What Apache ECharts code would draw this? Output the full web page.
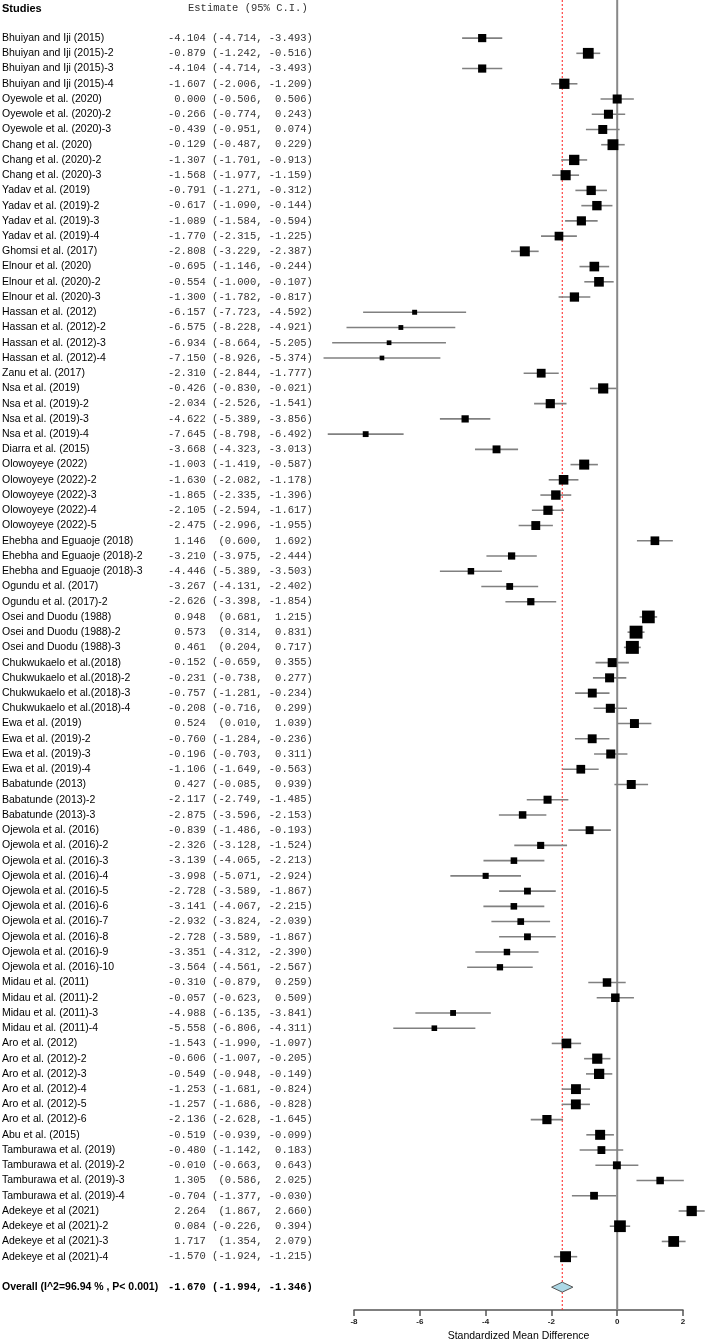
<!DOCTYPE html>
<html>
<head>
<meta charset="utf-8">
<script src="https://cdn.jsdelivr.net/npm/echarts@6/dist/echarts.min.js"></script>
<style>
html, body { margin: 0; padding: 0; background: #fff; }
#main { width: 706px; height: 1339px; }
</style>
</head>
<body>
<div id="main"></div>
<script>
var studies = [
	'Bhuiyan and Iji (2015)', 'Bhuiyan and Iji (2015)-2', 'Bhuiyan and Iji (2015)-3', 'Bhuiyan and Iji (2015)-4',
	'Oyewole et al. (2020)', 'Oyewole et al. (2020)-2', 'Oyewole et al. (2020)-3',
	'Chang et al. (2020)', 'Chang et al. (2020)-2', 'Chang et al. (2020)-3',
	'Yadav et al. (2019)', 'Yadav et al. (2019)-2', 'Yadav et al. (2019)-3', 'Yadav et al. (2019)-4',
	'Ghomsi et al. (2017)',
	'Elnour et al. (2020)', 'Elnour et al. (2020)-2', 'Elnour et al. (2020)-3',
	'Hassan et al. (2012)', 'Hassan et al. (2012)-2', 'Hassan et al. (2012)-3', 'Hassan et al. (2012)-4',
	'Zanu et al. (2017)',
	'Nsa et al. (2019)', 'Nsa et al. (2019)-2', 'Nsa et al. (2019)-3', 'Nsa et al. (2019)-4',
	'Diarra et al. (2015)',
	'Olowoyeye (2022)', 'Olowoyeye (2022)-2', 'Olowoyeye (2022)-3', 'Olowoyeye (2022)-4', 'Olowoyeye (2022)-5',
	'Ehebha and Eguaoje (2018)', 'Ehebha and Eguaoje (2018)-2', 'Ehebha and Eguaoje (2018)-3',
	'Ogundu et al. (2017)', 'Ogundu et al. (2017)-2',
	'Osei and Duodu (1988)', 'Osei and Duodu (1988)-2', 'Osei and Duodu (1988)-3',
	'Chukwukaelo et al.(2018)', 'Chukwukaelo et al.(2018)-2', 'Chukwukaelo et al.(2018)-3', 'Chukwukaelo et al.(2018)-4',
	'Ewa et al. (2019)', 'Ewa et al. (2019)-2', 'Ewa et al. (2019)-3', 'Ewa et al. (2019)-4',
	'Babatunde (2013)', 'Babatunde (2013)-2', 'Babatunde (2013)-3',
	'Ojewola et al. (2016)', 'Ojewola et al. (2016)-2', 'Ojewola et al. (2016)-3', 'Ojewola et al. (2016)-4',
	'Ojewola et al. (2016)-5', 'Ojewola et al. (2016)-6', 'Ojewola et al. (2016)-7', 'Ojewola et al. (2016)-8',
	'Ojewola et al. (2016)-9', 'Ojewola et al. (2016)-10',
	'Midau et al. (2011)', 'Midau et al. (2011)-2', 'Midau et al. (2011)-3', 'Midau et al. (2011)-4',
	'Aro et al. (2012)', 'Aro et al. (2012)-2', 'Aro et al. (2012)-3', 'Aro et al. (2012)-4', 'Aro et al. (2012)-5', 'Aro et al. (2012)-6',
	'Abu et al. (2015)',
	'Tamburawa et al. (2019)', 'Tamburawa et al. (2019)-2', 'Tamburawa et al. (2019)-3', 'Tamburawa et al. (2019)-4',
	'Adekeye et al (2021)', 'Adekeye et al (2021)-2', 'Adekeye et al (2021)-3', 'Adekeye et al (2021)-4'
];
var estimates = [
	-4.104, -0.879, -4.104, -1.607,
	0.000, -0.266, -0.439,
	-0.129, -1.307, -1.568,
	-0.791, -0.617, -1.089, -1.770,
	-2.808,
	-0.695, -0.554, -1.300,
	-6.157, -6.575, -6.934, -7.150,
	-2.310,
	-0.426, -2.034, -4.622, -7.645,
	-3.668,
	-1.003, -1.630, -1.865, -2.105, -2.475,
	1.146, -3.210, -4.446,
	-3.267, -2.626,
	0.948, 0.573, 0.461,
	-0.152, -0.231, -0.757, -0.208,
	0.524, -0.760, -0.196, -1.106,
	0.427, -2.117, -2.875,
	-0.839, -2.326, -3.139, -3.998, -2.728, -3.141, -2.932, -2.728, -3.351, -3.564,
	-0.310, -0.057, -4.988, -5.558,
	-1.543, -0.606, -0.549, -1.253, -1.257, -2.136,
	-0.519,
	-0.480, -0.010, 1.305, -0.704,
	2.264, 0.084, 1.717, -1.570
];
var lower = [
	-4.714, -1.242, -4.714, -2.006,
	-0.506, -0.774, -0.951,
	-0.487, -1.701, -1.977,
	-1.271, -1.090, -1.584, -2.315,
	-3.229,
	-1.146, -1.000, -1.782,
	-7.723, -8.228, -8.664, -8.926,
	-2.844,
	-0.830, -2.526, -5.389, -8.798,
	-4.323,
	-1.419, -2.082, -2.335, -2.594, -2.996,
	0.600, -3.975, -5.389,
	-4.131, -3.398,
	0.681, 0.314, 0.204,
	-0.659, -0.738, -1.281, -0.716,
	0.010, -1.284, -0.703, -1.649,
	-0.085, -2.749, -3.596,
	-1.486, -3.128, -4.065, -5.071, -3.589, -4.067, -3.824, -3.589, -4.312, -4.561,
	-0.879, -0.623, -6.135, -6.806,
	-1.990, -1.007, -0.948, -1.681, -1.686, -2.628,
	-0.939,
	-1.142, -0.663, 0.586, -1.377,
	1.867, -0.226, 1.354, -1.924
];
var upper = [
	-3.493, -0.516, -3.493, -1.209,
	0.506, 0.243, 0.074,
	0.229, -0.913, -1.159,
	-0.312, -0.144, -0.594, -1.225,
	-2.387,
	-0.244, -0.107, -0.817,
	-4.592, -4.921, -5.205, -5.374,
	-1.777,
	-0.021, -1.541, -3.856, -6.492,
	-3.013,
	-0.587, -1.178, -1.396, -1.617, -1.955,
	1.692, -2.444, -3.503,
	-2.402, -1.854,
	1.215, 0.831, 0.717,
	0.355, 0.277, -0.234, 0.299,
	1.039, -0.236, 0.311, -0.563,
	0.939, -1.485, -2.153,
	-0.193, -1.524, -2.213, -2.924, -1.867, -2.215, -2.039, -1.867, -2.390, -2.567,
	0.259, 0.509, -3.841, -4.311,
	-1.097, -0.205, -0.149, -0.824, -0.828, -1.645,
	-0.099,
	0.183, 0.643, 2.025, -0.030,
	2.660, 0.394, 2.079, -1.215
];
var overallLabel = 'Overall (I^2=96.94 % , P< 0.001)';
var overallEstimate = -1.670;
var overallLower = -1.994;
var overallUpper = -1.346;
var xTicks = [-8, -6, -4, -2, 0, 2];

var SANS = '"Liberation Sans", Arial, sans-serif';
var MONO = '"Liberation Mono", "Courier New", monospace';

function padLeft(s, n) {
	while (s.length < n) s = ' ' + s;
	return s;
}
// fixed-width "est (lo, hi)" string like the original table
function ciText(est, lo, hi) {
	return padLeft(est.toFixed(3), 6) + ' ' + padLeft('(' + lo.toFixed(3), 7) + ', ' + padLeft(hi.toFixed(3), 6) + ')';
}

var studyRows = studies.map(function (name, i) {
	return [estimates[i], lower[i], upper[i], i + 1];
});
var overallRow = studies.length + 2;

var myChart = echarts.init(document.getElementById('main'));

function renderStudy(params, api) {
	var i = params.dataIndex;
	var est = api.value(0), lo = api.value(1), hi = api.value(2), row = api.value(3);
	var p = api.coord([est, row]);
	var pl = api.coord([lo, row]);
	var ph = api.coord([hi, row]);
	var s = Math.min(14, 9.1 * Math.pow(hi - lo, -0.53));
	return {
		type: 'group',
		children: [
			{ type: 'line', shape: { x1: pl[0], y1: p[1], x2: ph[0], y2: p[1] },
				style: { stroke: '#808080', lineWidth: 1.6 } },
			{ type: 'rect', shape: { x: p[0] - s / 2, y: p[1] - s / 2, width: s, height: s },
				style: { fill: '#000' } },
			{ type: 'text', style: { x: 2, y: p[1], text: studies[i], fill: '#000',
				font: '10.5px ' + SANS, verticalAlign: 'middle', align: 'left' } },
			{ type: 'text', style: { x: 168, y: p[1], text: ciText(est, lo, hi), fill: '#333',
				font: '10.5px ' + MONO, verticalAlign: 'middle', align: 'left' } }
		]
	};
}

function renderOverall(params, api) {
	var est = api.value(0), lo = api.value(1), hi = api.value(2), row = api.value(3);
	var p = api.coord([est, row]);
	var pl = api.coord([lo, row]);
	var ph = api.coord([hi, row]);
	var h = 5;
	return {
		type: 'group',
		children: [
			{ type: 'polygon', shape: { points: [[pl[0], p[1]], [p[0], p[1] - h], [ph[0], p[1]], [p[0], p[1] + h]] },
				style: { fill: '#add8e6', stroke: '#555', lineWidth: 1 } },
			{ type: 'text', style: { x: 2, y: p[1], text: overallLabel, fill: '#000',
				font: 'bold 10.5px ' + SANS, verticalAlign: 'middle', align: 'left' } },
			{ type: 'text', style: { x: 168, y: p[1], text: ciText(est, lo, hi), fill: '#000',
				font: 'bold 10.5px ' + MONO, verticalAlign: 'middle', align: 'left' } }
		]
	};
}

function renderRefLine(params, api) {
	var x = api.value(0);
	var top = api.coord([x, -1.5]);
	var bottom = api.coord([x, 84.5]);
	var isZero = x === 0;
	return {
		type: 'line',
		shape: { x1: top[0], y1: top[1], x2: bottom[0], y2: bottom[1] },
		style: isZero ? { stroke: '#888', lineWidth: 2 } : { stroke: '#ff2020', lineWidth: 1, lineDash: [2, 2] }
	};
}

var option = {
	animation: false,
	backgroundColor: '#fff',
	grid: { left: 354, right: 23, top: 0, bottom: 29, outerBoundsMode: 'none' },
	graphic: [
		{ type: 'text', left: 2, top: 3, style: { text: 'Studies', font: 'bold 11px ' + SANS, fill: '#000' } },
		{ type: 'text', left: 188, top: 3, style: { text: 'Estimate (95% C.I.)', font: '10.5px ' + MONO, fill: '#333' } }
	],
	xAxis: {
		type: 'value',
		min: xTicks[0],
		max: xTicks[xTicks.length - 1],
		interval: 2,
		splitLine: { show: false },
		axisLine: { onZero: false, lineStyle: { color: '#555', width: 1.5 } },
		axisTick: { length: 6, lineStyle: { color: '#555', width: 1.5 } },
		axisLabel: { fontSize: 8, fontWeight: 'bold', color: '#222', margin: 8, fontFamily: SANS },
		name: 'Standardized Mean Difference',
		nameLocation: 'middle',
		nameGap: 19,
		nameTextStyle: { fontSize: 10.5, color: '#000', fontFamily: SANS }
	},
	yAxis: {
		type: 'value',
		inverse: true,
		min: -1.5,
		max: 84.5,
		show: false
	},
	series: [
		{ type: 'custom', name: 'ref', renderItem: renderRefLine, data: [[0], [overallEstimate]], z: 1, silent: true },
		{ type: 'custom', name: 'studies', renderItem: renderStudy, data: studyRows, z: 2, clip: false, silent: true },
		{ type: 'custom', name: 'overall', renderItem: renderOverall,
			data: [[overallEstimate, overallLower, overallUpper, overallRow]], z: 3, clip: false, silent: true }
	]
};
myChart.setOption(option);
</script>
</body>
</html>
